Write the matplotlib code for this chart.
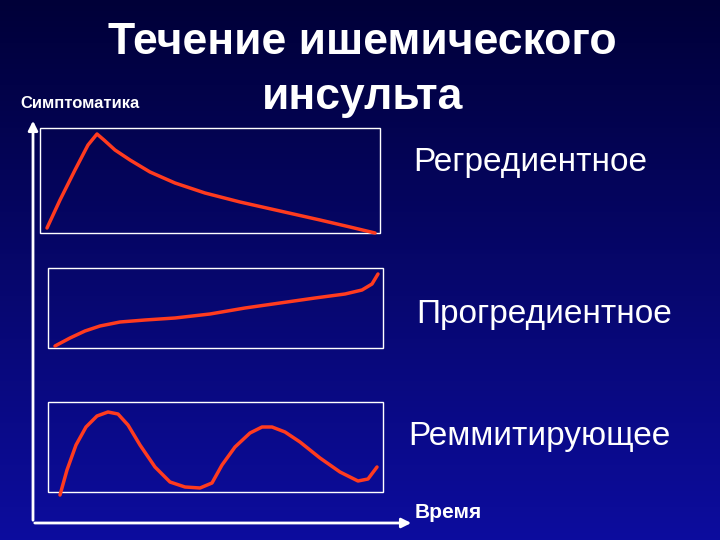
import numpy as np
import matplotlib
matplotlib.use("Agg")
import matplotlib.pyplot as plt
from matplotlib.patches import Rectangle

plt.rcParams['font.family'] = ['Liberation Sans', 'DejaVu Sans']

# curves (pixel coordinates, y downwards)
regr_x = [47, 60, 75, 88, 97, 104, 115, 130, 150, 175, 205, 240, 280, 320, 350, 375]
regr_y = [228, 200, 170, 145, 134, 140, 150, 160, 172, 183, 193, 202, 211, 220, 227, 233]
progr_x = [55, 70, 85, 100, 120, 145, 175, 210, 245, 280, 315, 345, 362, 372, 378]
progr_y = [346, 338, 331, 326, 322, 320, 318, 314, 308, 303, 298, 294, 290, 284, 274]
remit_x = [60, 67, 76, 86, 97, 108, 118, 128, 140, 155, 170, 185, 200, 212, 222, 235, 250, 262, 272, 285, 300, 320, 340, 358, 368, 377]
remit_y = [495, 470, 445, 427, 416, 412, 414, 425, 445, 467, 482, 487, 488, 483, 465, 447, 433, 427, 427, 432, 442, 458, 472, 481, 479, 467]

boxes = [(40, 128, 340, 105), (48, 268, 335, 80), (48, 402, 335, 90)]
labels = ["Регредиентное", "Прогредиентное", "Реммитирующее"]
label_pos = [(413, 163), (416, 315), (408, 437)]

fig = plt.figure(figsize=(7.2, 5.4), dpi=100)
ax = fig.add_axes([0, 0, 1, 1])
ax.set_xlim(0, 720)
ax.set_ylim(540, 0)
ax.axis('off')

# background gradient: dark navy at top, brighter blue at bottom
t = np.linspace(0, 1, 256)[:, None]
top = np.array([0.0, 0.0, 0.22])
bot = np.array([0.05, 0.05, 0.62])
grad = top + (bot - top) * t[..., None]
grad = np.repeat(grad, 2, axis=1)
ax.imshow(grad, extent=[0, 720, 540, 0], aspect='auto', zorder=0)

for (x, y, w, h) in boxes:
    ax.add_patch(Rectangle((x, y), w, h, fill=False, ec='white', lw=1.0, zorder=2))

red = '#ff3b1f'
for xs, ys in [(regr_x, regr_y), (progr_x, progr_y), (remit_x, remit_y)]:
    ax.plot(xs, ys, color=red, lw=2.5, solid_capstyle='round', zorder=3)

# axes arrows
ax.annotate('', xy=(33, 118), xytext=(33, 523),
            arrowprops=dict(arrowstyle='-|>', color='white', lw=2, mutation_scale=14))
ax.annotate('', xy=(414, 523), xytext=(32, 523),
            arrowprops=dict(arrowstyle='-|>', color='white', lw=2, mutation_scale=14))

ax.text(362, 43, "Течение ишемического", color='white', fontsize=32,
        fontweight='bold', ha='center', va='center')
ax.text(363, 97, "инсульта", color='white', fontsize=32,
        fontweight='bold', ha='center', va='center')
ax.text(20, 103, "Симптоматика", color='white', fontsize=12,
        fontweight='bold', ha='left', va='center')

for lab, (x, y) in zip(labels, label_pos):
    ax.text(x, y, lab, color='white', fontsize=24, ha='left', va='center')
ax.text(415, 512, "Время", color='white', fontsize=15, fontweight='bold',
        ha='left', va='center')

fig.savefig("out.png", dpi=100)
